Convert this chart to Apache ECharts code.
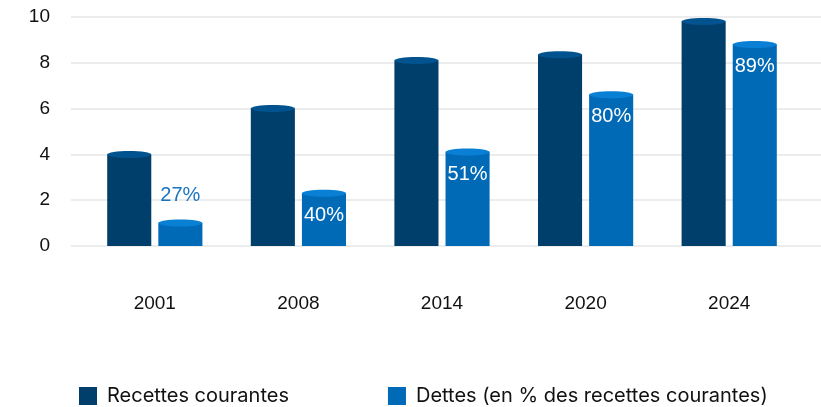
<!DOCTYPE html>
<html><head><meta charset="utf-8">
<script src="https://cdn.jsdelivr.net/npm/echarts@6/dist/echarts.min.js"></script>
<style>html,body{margin:0;padding:0;background:#fff}#c{width:821px;height:407px}</style>
</head><body><div id="c"></div>
<script>
const categories = ['2001', '2008', '2014', '2020', '2024'];
const recettes = [4.0, 6.0, 8.1, 8.35, 9.8];
const dettes = [1.0, 2.3, 4.1, 6.6, 8.8];
const dettesLabels = ['27%', '40%', '51%', '80%', '89%'];
const yTicks = [0, 2, 4, 6, 8, 10];

const FONT = 'Liberation Sans, Arial, sans-serif';
const LFONT = 'Inter, Roboto, sans-serif';
const chart = echarts.init(document.getElementById('c'));

function cyl(offsetFrac, color, capColor, labels) {
  return function (params, api) {
    const i = api.value(0), v = api.value(1);
    const base = api.coord([i, 0]);
    const top = api.coord([i, v]);
    const band = api.size([1, 0])[0];
    const w = band * 0.307;
    const cx = base[0] + band * offsetFrac;
    const children = [
      { type: 'rect', shape: { x: cx - w / 2, y: top[1], width: w, height: base[1] - top[1] }, style: { fill: color } },
      { type: 'ellipse', shape: { cx: cx, cy: top[1], rx: w / 2, ry: 3.5 }, style: { fill: capColor } }
    ];
    if (labels) {
      const inside = (base[1] - top[1]) > 40;
      children.push({ type: 'text', style: {
        text: labels[params.dataIndex], x: cx, y: inside ? top[1] + 22 : top[1] - 28,
        align: 'center', verticalAlign: 'middle', font: '20px ' + FONT,
        fill: inside ? '#ffffff' : '#1a74c0' } });
    }
    return { type: 'group', children: children };
  };
}

chart.setOption({
  animation: false,
  legend: {
    left: 79, top: 386, padding: 0, itemWidth: 18, itemHeight: 18, itemGap: 99, icon: 'rect',
    textStyle: { fontFamily: LFONT, fontSize: 20, color: '#111', padding: [0, 0, 0, 5] },
    data: [
      { name: 'Recettes courantes', itemStyle: { color: '#003e6b' } },
      { name: 'Dettes (en % des recettes courantes)', itemStyle: { color: '#006ab7' } }
    ]
  },
  grid: [
    { left: 71, right: 0, top: 17, bottom: 161 },
    { left: 83, right: 20, top: 17, bottom: 161 }
  ],
  xAxis: [
    { type: 'category', gridIndex: 0, data: categories, show: false },
    { type: 'category', gridIndex: 1, data: categories,
      axisLine: { show: false }, axisTick: { show: false },
      axisLabel: { margin: 48, fontFamily: FONT, fontSize: 19, color: '#111' } }
  ],
  yAxis: [
    { type: 'value', gridIndex: 0, min: 0, max: 10, interval: 2,
      axisLine: { show: false }, axisTick: { show: false },
      axisLabel: { margin: 21, fontFamily: FONT, fontSize: 19, color: '#111' },
      splitLine: { lineStyle: { color: '#e6e6e6', width: 1.5 } } },
    { type: 'value', gridIndex: 1, min: 0, max: 10, interval: 2, show: false, splitLine: { show: false } }
  ],
  series: [
    { name: 'Recettes courantes', type: 'custom', xAxisIndex: 1, yAxisIndex: 1,
      itemStyle: { color: '#003e6b' },
      renderItem: cyl(-0.178, '#003e6b', '#00538e', null),
      data: recettes.map((v, i) => [i, v]) },
    { name: 'Dettes (en % des recettes courantes)', type: 'custom', xAxisIndex: 1, yAxisIndex: 1,
      itemStyle: { color: '#006ab7' },
      renderItem: cyl(0.178, '#006ab7', '#0a80d5', dettesLabels),
      data: dettes.map((v, i) => [i, v]) }
  ]
});
</script></body></html>
